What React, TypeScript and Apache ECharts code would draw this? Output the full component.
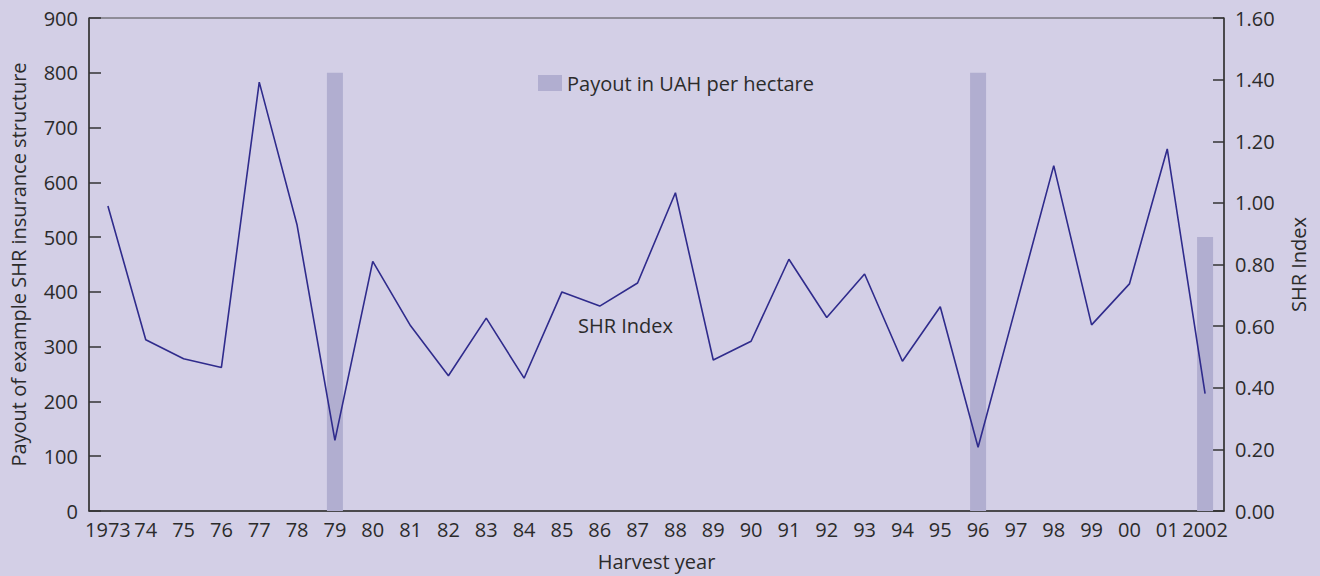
import React, { useEffect, useRef } from "react";
import * as echarts from "echarts";

const years = [
  "1973", "74", "75", "76", "77", "78", "79", "80", "81", "82",
  "83", "84", "85", "86", "87", "88", "89", "90", "91", "92",
  "93", "94", "95", "96", "97", "98", "99", "00", "01", "2002",
];

const payout = [
  null, null, null, null, null, null, 800, null, null, null,
  null, null, null, null, null, null, null, null, null, null,
  null, null, null, 800, null, null, null, null, null, 500,
];

const shrIndex = [
  0.99, 0.556, 0.494, 0.466, 1.392, 0.928, 0.229, 0.81, 0.601, 0.439,
  0.626, 0.431, 0.711, 0.665, 0.74, 1.033, 0.49, 0.551, 0.817, 0.628,
  0.769, 0.486, 0.663, 0.207, 0.664, 1.121, 0.604, 0.737, 1.175, 0.381,
];

const FONT = "'Open Sans', 'DejaVu Sans', sans-serif";
const TEXT = "#2b2b2b";
const AXIS = "#333333";
const BG = "#d3cfe6";
const BAR = "#b1aed0";
const LINE = "#2f2b8c";

export default function App() {
  const ref = useRef<HTMLDivElement>(null);

  useEffect(() => {
    if (!ref.current) return;
    const chart = echarts.init(ref.current, undefined, { renderer: "svg" });
    chart.setOption({
      animation: false,
      backgroundColor: BG,
      textStyle: { fontFamily: FONT, color: TEXT },
      grid: {
        left: 88,
        right: 96,
        top: 18,
        bottom: 61,
        show: true,
        borderColor: "#4a4a4a",
        borderWidth: 1,
        backgroundColor: "transparent",
      },
      legend: {
        data: [{ name: "Payout in UAH per hectare", icon: "rect" }],
        left: 533,
        top: 68,
        itemWidth: 24,
        itemHeight: 16,
        itemGap: 10,
        textStyle: { fontSize: 20, color: TEXT, fontFamily: FONT },
      },
      xAxis: {
        type: "category",
        data: years,
        boundaryGap: true,
        name: "Harvest year",
        nameLocation: "middle",
        nameGap: 40,
        nameTextStyle: { fontSize: 20, color: TEXT, fontFamily: FONT },
        axisLine: { lineStyle: { color: AXIS, width: 1.5 } },
        axisTick: { inside: true, length: 10, interval: 0, lineStyle: { color: AXIS, width: 1.5 } },
        axisLabel: { fontSize: 20, color: TEXT, margin: 8, interval: 0, fontFamily: FONT },
        splitLine: { show: false },
      },
      yAxis: [
        {
          type: "value",
          min: 0,
          max: 900,
          interval: 100,
          name: "Payout of example SHR insurance structure",
          nameLocation: "middle",
          nameRotate: 90,
          nameGap: 61,
          nameTextStyle: { fontSize: 20, color: TEXT, fontFamily: FONT },
          axisLine: { show: true, lineStyle: { color: AXIS, width: 1.5 } },
          axisTick: { show: true, inside: true, length: 12, lineStyle: { color: AXIS, width: 1.5 } },
          axisLabel: { fontSize: 20, color: TEXT, margin: 11, fontFamily: FONT },
          splitLine: { show: false },
        },
        {
          type: "value",
          position: "right",
          min: 0,
          max: 1.6,
          interval: 0.2,
          name: "SHR Index",
          nameLocation: "middle",
          nameRotate: 90,
          nameGap: 64,
          nameTextStyle: { fontSize: 20, color: TEXT, fontFamily: FONT },
          axisLine: { show: true, lineStyle: { color: AXIS, width: 1.5 } },
          axisTick: { show: true, inside: true, length: 11, lineStyle: { color: AXIS, width: 1.5 } },
          axisLabel: {
            fontSize: 20,
            color: TEXT,
            margin: 11,
            fontFamily: FONT,
            formatter: (v: number) => v.toFixed(2),
          },
          splitLine: { show: false },
        },
      ],
      graphic: [
        {
          type: "text",
          left: 578,
          top: 315,
          style: { text: "SHR Index", fontSize: 20, fill: TEXT, fontFamily: FONT },
        },
      ],
      series: [
        {
          name: "Payout in UAH per hectare",
          type: "bar",
          yAxisIndex: 0,
          data: payout,
          barWidth: 16,
          itemStyle: { color: BAR },
        },
        {
          name: "SHR Index",
          type: "line",
          yAxisIndex: 1,
          data: shrIndex,
          symbol: "none",
          lineStyle: { color: LINE, width: 1.6 },
          itemStyle: { color: LINE },
          z: 3,
        },
      ],
    });
    return () => chart.dispose();
  }, []);

  return (
    <div
      ref={ref}
      style={{ position: "fixed", left: 0, top: 0, width: 1320, height: 576, background: BG }}
    />
  );
}
